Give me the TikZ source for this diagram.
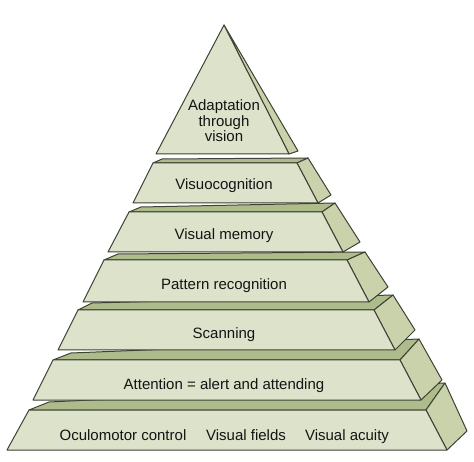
\documentclass[tikz,border=0pt]{standalone}
\usepackage{fontspec}
\setmainfont{Liberation Sans}
\usetikzlibrary{positioning}

\definecolor{frontgreen}{RGB}{221,226,203}
\definecolor{topgreen}{RGB}{174,188,140}
\definecolor{sidegreen}{RGB}{202,210,172}
\definecolor{edgegray}{RGB}{62,66,52}

\tikzset{
  frontface/.style={fill=frontgreen, draw=edgegray, line width=1pt, line join=round},
  topface/.style={fill=topgreen, draw=edgegray, line width=1pt, line join=round},
  sideface/.style={fill=sidegreen, draw=edgegray, line width=1pt, line join=round},
  layertext/.style={font=\fontsize{15}{15.5}\selectfont, text=black!92, align=center, inner sep=0pt}
}

\begin{document}
\begin{tikzpicture}[x=1pt, y=-1pt]
                \useasboundingbox (0,0) rectangle (474,462);
                % bottom layer
                \draw[topface] (29,410) -- (49,402) -- (445,383) -- (426,410) -- cycle;
                \draw[sideface] (426,410) -- (445,383) -- (467,431) -- (447,450) -- cycle;
                \draw[frontface] (29,410) -- (426,410) -- (447,450) -- (7,450) -- cycle;
                % attention
                \draw[topface] (53,360) -- (71,353) -- (419,339) -- (400,360) -- cycle;
                \draw[sideface] (400,360) -- (419,339) -- (442,380) -- (421,400) -- cycle;
                \draw[frontface] (53,360) -- (400,360) -- (421,400) -- (33,400) -- cycle;
                % scanning
                \draw[topface] (78,310) -- (92,303) -- (393,295) -- (374,310) -- cycle;
                \draw[sideface] (374,310) -- (393,295) -- (415,330) -- (395,350) -- cycle;
                \draw[frontface] (78,310) -- (374,310) -- (395,350) -- (58,350) -- cycle;
                % pattern recognition
                \draw[topface] (104,260) -- (118,254) -- (365,252) -- (347,260) -- cycle;
                \draw[sideface] (347,260) -- (365,252) -- (388,287) -- (369,302) -- cycle;
                \draw[frontface] (104,260) -- (347,260) -- (369,302) -- (83,302) -- cycle;
                % visual memory
                \draw[topface] (129,212) -- (141,207) -- (335,203) -- (322,212) -- cycle;
                \draw[sideface] (322,212) -- (335,203) -- (360,242) -- (343,252) -- cycle;
                \draw[frontface] (129,212) -- (322,212) -- (343,252) -- (108,252) -- cycle;
                % visuocognition
                \draw[topface] (153,163) -- (162,159) -- (308,158) -- (297,163) -- cycle;
                \draw[sideface] (297,163) -- (308,158) -- (331,195) -- (318,203) -- cycle;
                \draw[frontface] (153,163) -- (297,163) -- (318,203) -- (133,203) -- cycle;
                % apex
                \draw[sideface] (224,25) -- (298,151) -- (289,154) -- cycle;
                \draw[frontface] (224,25) -- (289,154) -- (156,154) -- cycle;

                \node[layertext] (adaptation) at (224,121) {Adaptation\\through\\vision};
                \node[layertext, anchor=base] (visuocognition) at (224,190) {Visuocognition};
                \node[layertext, anchor=base] (memory) at (224,240) {Visual memory};
                \node[layertext, anchor=base] (pattern) at (224,290) {Pattern recognition};
                \node[layertext, anchor=base] (scanning) at (224,338) {Scanning};
                \node[layertext, anchor=base] (attention) at (224,389) {Attention = alert and attending};
                \node[layertext, anchor=base] (oculomotor) at (123,440) {Oculomotor control};
                \node[layertext, anchor=base] (fields) at (246,440) {Visual fields};
                \node[layertext, anchor=base] (acuity) at (347,440) {Visual acuity};
            \end{tikzpicture}
\end{document}
